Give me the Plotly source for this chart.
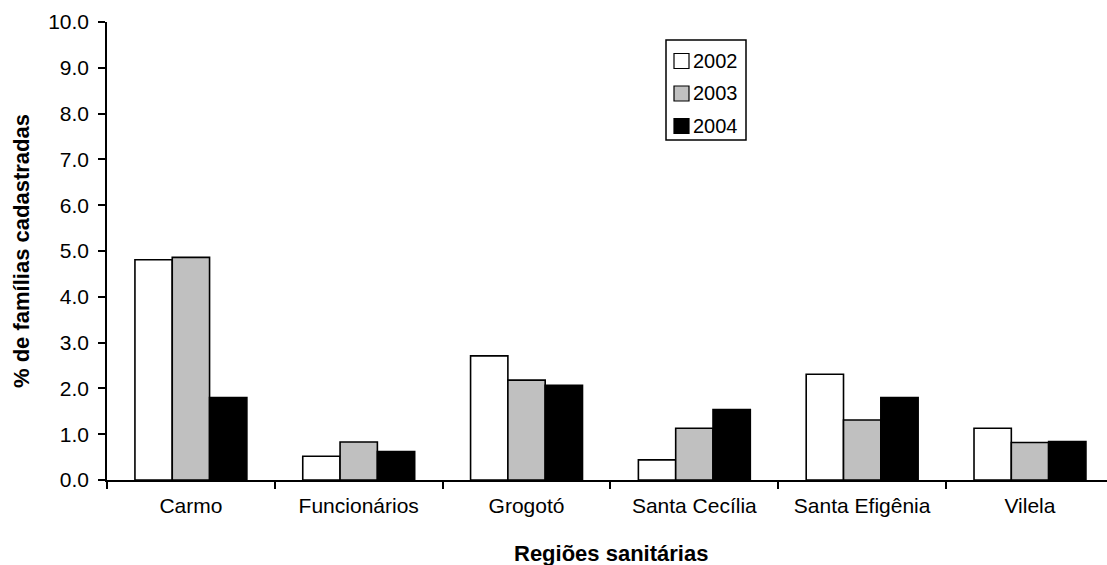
import plotly.graph_objects as go

# Registered families (%) per health region and year
regioes = ["Carmo", "Funcionários", "Grogotó", "Santa Cecília", "Santa Efigênia", "Vilela"]
anos = ["2002", "2003", "2004"]
v2002 = [4.81, 0.52, 2.71, 0.44, 2.31, 1.13]
v2003 = [4.86, 0.83, 2.18, 1.13, 1.31, 0.82]
v2004 = [1.80, 0.62, 2.07, 1.54, 1.80, 0.84]
cores = ["#FFFFFF", "#C0C0C0", "#000000"]

FONT = "Liberation Sans, Arial, sans-serif"
W, H = 1107, 565
ML, MR, MT, MB = 107, 0, 22, 85
PW, PH = W - ML - MR, H - MT - MB


def px(x):
    # pixel column -> paper x
    return (x - ML) / PW


def py(y):
    # pixel row -> paper y
    return (H - MB - y) / PH


fig = go.Figure()
for ano, vals, cor in zip(anos, [v2002, v2003, v2004], cores):
    fig.add_trace(go.Bar(
        name=ano, x=regioes, y=vals, showlegend=False,
        marker=dict(color=cor, line=dict(color="#000000", width=1.6)),
    ))

# Boxed legend: outline, colour swatches and year labels
shapes = [dict(type="rect", xref="paper", yref="paper",
               x0=px(666), x1=px(746), y0=py(140), y1=py(40),
               line=dict(color="black", width=1.5), fillcolor="white", layer="above")]
annotations = []
for i, (ano, cor) in enumerate(zip(anos, cores)):
    cy = 61 + i * 32.5
    shapes.append(dict(type="rect", xref="paper", yref="paper",
                       x0=px(674), x1=px(689), y0=py(cy + 7.5), y1=py(cy - 7.5),
                       line=dict(color="black", width=1.2), fillcolor=cor, layer="above"))
    annotations.append(dict(text=ano, xref="paper", yref="paper",
                            x=px(691), y=py(cy), xanchor="left", yanchor="middle",
                            showarrow=False, font=dict(size=20, family=FONT, color="black")))

annotations += [
    dict(text="<b>Regiões sanitárias</b>", xref="paper", yref="paper",
         x=px(611), y=py(553), xanchor="center", yanchor="middle",
         showarrow=False, font=dict(size=22, family=FONT, color="black")),
    dict(text="<b>% de famílias cadastradas</b>", xref="paper", yref="paper",
         x=px(21), y=0.5, xanchor="center", yanchor="middle", textangle=-90,
         showarrow=False, font=dict(size=22, family=FONT, color="black")),
]

fig.update_layout(
    width=W, height=H,
    margin=dict(l=ML, r=MR, t=MT, b=MB),
    paper_bgcolor="white", plot_bgcolor="white",
    barmode="group", bargap=0.333, bargroupgap=0,
    font=dict(family=FONT, size=21, color="black"),
    showlegend=False,
    xaxis=dict(
        range=[-0.5, 5.459],
        showline=True, linecolor="black", linewidth=1.5,
        ticks="outside", ticklen=7, tickwidth=1.5, tickcolor="black",
        tickson="boundaries", ticklabelstandoff=6,
        tickfont=dict(size=21, family=FONT),
        showgrid=False, zeroline=False,
    ),
    yaxis=dict(
        range=[0, 10], dtick=1, tickformat=".1f",
        showline=True, linecolor="black", linewidth=1.5,
        ticks="outside", ticklen=7, tickwidth=1.5, tickcolor="black",
        ticklabelstandoff=5,
        tickfont=dict(size=21, family=FONT),
        showgrid=False, zeroline=False,
    ),
    shapes=shapes,
    annotations=annotations,
)

fig.write_html("out.html")
